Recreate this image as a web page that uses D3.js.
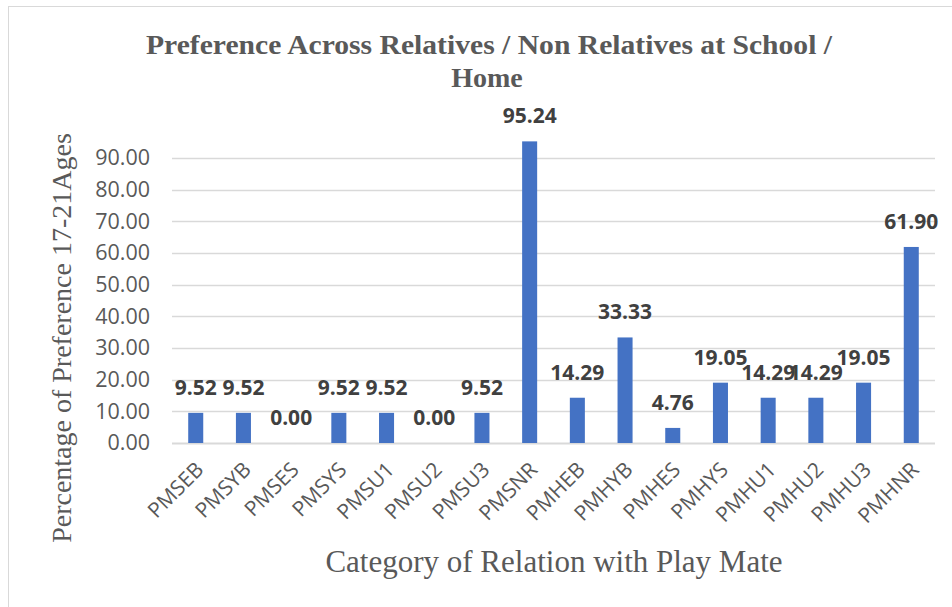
<!DOCTYPE html>
<html>
<head>
<meta charset="utf-8">
<script src="https://cdn.jsdelivr.net/npm/d3@7"></script>
<style>
  body { margin: 0; background: #fff; }
  svg { display: block; }
</style>
</head>
<body>
<svg id="chart"></svg>
<script>
var categories = ['PMSEB', 'PMSYB', 'PMSES', 'PMSYS', 'PMSU1', 'PMSU2', 'PMSU3', 'PMSNR',
  'PMHEB', 'PMHYB', 'PMHES', 'PMHYS', 'PMHU1', 'PMHU2', 'PMHU3', 'PMHNR'];
var values = [9.52, 9.52, 0.00, 9.52, 9.52, 0.00, 9.52, 95.24,
  14.29, 33.33, 4.76, 19.05, 14.29, 14.29, 19.05, 61.90];
var yTicks = [0, 10, 20, 30, 40, 50, 60, 70, 80, 90];

var width = 952;
var height = 607;
var margin = { left: 172, right: 17, top: 126, bottom: 164 };

var svg = d3.select('#chart')
  .attr('width', width)
  .attr('height', height);

// chart frame
svg.append('rect')
  .attr('x', 8.5)
  .attr('y', 6.5)
  .attr('width', 960)
  .attr('height', 620)
  .attr('fill', 'none')
  .attr('stroke', '#d9d9d9');

var x = d3.scaleBand()
  .domain(categories)
  .range([margin.left, width - margin.right])
  .paddingInner(0.685)
  .paddingOuter(0.34);

var y = d3.scaleLinear()
  .domain([0, 100])
  .range([height - margin.bottom, height - margin.bottom - 316.7]);

// gridlines
svg.append('g')
  .selectAll('line')
  .data(yTicks)
  .enter()
  .append('line')
  .attr('x1', margin.left)
  .attr('x2', width - margin.right)
  .attr('y1', d => Math.round(y(d)) + 0.5)
  .attr('y2', d => Math.round(y(d)) + 0.5)
  .attr('stroke', '#d9d9d9')
  .attr('stroke-width', d => d === 0 ? 2 : 1.5);

// y axis labels
var yAxis = d3.axisLeft(y)
  .tickValues(yTicks)
  .tickFormat(d3.format('.2f'))
  .tickSize(0)
  .tickPadding(22);

svg.append('g')
  .attr('transform', 'translate(' + margin.left + ',0)')
  .call(yAxis)
  .call(g => g.select('.domain').remove())
  .selectAll('text')
  .attr('font-family', '"Open Sans", "Noto Sans", sans-serif')
  .attr('font-size', 21.5)
  .attr('fill', '#595959');

// bars
svg.append('g')
  .selectAll('rect')
  .data(values)
  .enter()
  .append('rect')
  .attr('x', (d, i) => x(categories[i]))
  .attr('width', x.bandwidth())
  .attr('y', d => y(d))
  .attr('height', d => y(0) - y(d))
  .attr('fill', '#4472c4');

// data labels
svg.append('g')
  .selectAll('text')
  .data(values)
  .enter()
  .append('text')
  .attr('x', (d, i) => x(categories[i]) + x.bandwidth() / 2)
  .attr('y', d => y(d) - 18)
  .attr('text-anchor', 'middle')
  .attr('font-family', '"Open Sans", "Noto Sans", sans-serif')
  .attr('font-weight', 'bold')
  .attr('font-size', 21)
  .attr('fill', '#404040')
  .text(d => d.toFixed(2));

// x axis labels
var xAxis = d3.axisBottom(x).tickSize(0).tickPadding(0);

svg.append('g')
  .attr('transform', 'translate(0,' + y(0) + ')')
  .call(xAxis)
  .call(g => g.select('.domain').remove())
  .selectAll('text')
  .attr('font-family', '"Open Sans", "Noto Sans", sans-serif')
  .attr('font-size', 21)
  .attr('fill', '#595959')
  .attr('text-anchor', 'end')
  .attr('dy', 0)
  .attr('transform', 'translate(9,28) rotate(-45)');

// title
var title = svg.append('text')
  .attr('text-anchor', 'middle')
  .attr('font-family', '"Liberation Serif", "Times New Roman", serif')
  .attr('font-weight', 'bold')
  .attr('font-size', 28)
  .attr('fill', '#595959');

title.append('tspan')
  .attr('x', 489)
  .attr('y', 54)
  .attr('textLength', 686)
  .attr('lengthAdjust', 'spacingAndGlyphs')
  .text('Preference Across Relatives / Non Relatives at School /');

title.append('tspan')
  .attr('x', 487)
  .attr('y', 87)
  .text('Home');

// axis titles
svg.append('text')
  .attr('transform', 'translate(71,338) rotate(-90)')
  .attr('text-anchor', 'middle')
  .attr('font-family', '"Liberation Serif", "Times New Roman", serif')
  .attr('font-size', 28)
  .attr('fill', '#595959')
  .text('Percentage of Preference 17-21Ages');

svg.append('text')
  .attr('x', 554)
  .attr('y', 572)
  .attr('text-anchor', 'middle')
  .attr('font-family', '"Liberation Serif", "Times New Roman", serif')
  .attr('font-size', 31)
  .attr('fill', '#595959')
  .text('Category of Relation with Play Mate');
</script>
</body>
</html>
